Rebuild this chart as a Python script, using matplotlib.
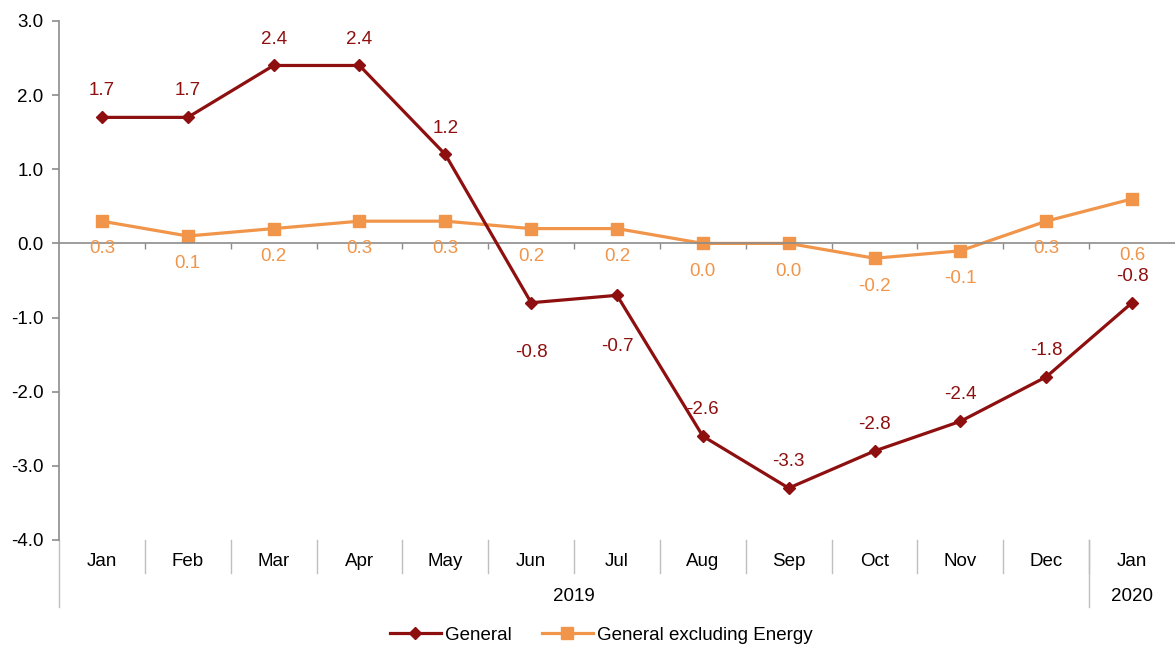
import matplotlib.pyplot as plt
from matplotlib.lines import Line2D
from matplotlib.ticker import FuncFormatter, MultipleLocator

plt.rcParams["font.family"] = ["Liberation Sans", "DejaVu Sans"]

# ---------------------------------------------------------------------
# Data
# ---------------------------------------------------------------------
MONTHS = ["Jan", "Feb", "Mar", "Apr", "May", "Jun", "Jul",
          "Aug", "Sep", "Oct", "Nov", "Dec", "Jan"]
YEARS = ["2019", "2020"]
YEAR_COUNTS = [12, 1]

GENERAL = [1.7, 1.7, 2.4, 2.4, 1.2, -0.8, -0.7, -2.6, -3.3, -2.8, -2.4, -1.8, -0.8]
EXCL_ENERGY = [0.3, 0.1, 0.2, 0.3, 0.3, 0.2, 0.2, 0.0, 0.0, -0.2, -0.1, 0.3, 0.6]

# label offsets (points) - styling only
GENERAL_OFFSETS = [19, 19, 19, 19, 19, -36, -37, 19, 19, 19, 19, 19, 19]
EXCL_OFFSETS = [-20] * 12 + [-41]

RED = "#8E0F0F"
ORANGE = "#F0954A"
GREY = "#8C8C8C"
FS = 13.5

fig = plt.figure(figsize=(11.75, 6.48), dpi=100)
ax = fig.add_axes([0.0502, 0.1667, 0.9498, 0.8009])

x = list(range(len(MONTHS)))
ax.plot(x, GENERAL, color=RED, lw=2.3, marker="D", ms=6.5, label="General", zorder=3)
ax.plot(x, EXCL_ENERGY, color=ORANGE, lw=2.3, marker="s", ms=8,
        label="General excluding Energy", zorder=2)

for xi, v, off in zip(x, GENERAL, GENERAL_OFFSETS):
    ax.annotate(f"{v:.1f}", (xi, v), xytext=(0, off), textcoords="offset points",
                ha="center", va="center", color=RED, fontsize=FS)
for xi, v, off in zip(x, EXCL_ENERGY, EXCL_OFFSETS):
    ax.annotate(f"{v:.1f}", (xi, v), xytext=(0, off), textcoords="offset points",
                ha="center", va="center", color=ORANGE, fontsize=FS)

ax.set_xlim(-0.5, len(MONTHS) - 0.5)
ax.set_ylim(-4, 3)
ax.yaxis.set_major_locator(MultipleLocator(1))
ax.yaxis.set_major_formatter(FuncFormatter(lambda v, _: f"{v:.1f}"))

for side in ["top", "right"]:
    ax.spines[side].set_visible(False)
ax.spines["left"].set_color(GREY)
ax.spines["left"].set_linewidth(1.2)
ax.spines["bottom"].set_position(("data", 0))
ax.spines["bottom"].set_color(GREY)
ax.spines["bottom"].set_linewidth(1.2)

ax.set_xticks([i + 0.5 for i in x[:-1]])
ax.set_xticklabels([])
ax.tick_params(axis="x", direction="out", length=4, color=GREY, width=1)
ax.tick_params(axis="y", direction="out", length=5, color=GREY, width=1.2,
               labelsize=FS, pad=6)

# multi-level category axis below the plot
trans = ax.get_xaxis_transform()
for xi, name in zip(x, MONTHS):
    ax.text(xi, -0.042, name, transform=trans, ha="center", va="center", fontsize=FS)
for xi in x[:-1]:
    ax.add_line(Line2D([xi + 0.5, xi + 0.5], [0, -0.064], transform=trans,
                       color="#BFBFBF", lw=1, clip_on=False))

start = -0.5
for year, count in zip(YEARS, YEAR_COUNTS):
    ax.text(start + count / 2, -0.108, year, transform=trans,
            ha="center", va="center", fontsize=FS)
    ax.add_line(Line2D([start, start], [0, -0.129], transform=trans,
                       color="#BFBFBF", lw=1, clip_on=False))
    start += count

fig.legend(loc="center", bbox_to_anchor=(0.512, 0.02), ncol=2, frameon=False,
           fontsize=FS, handlelength=2.7, handletextpad=0.25, columnspacing=1.6)

fig.savefig("out.png", dpi=100)
